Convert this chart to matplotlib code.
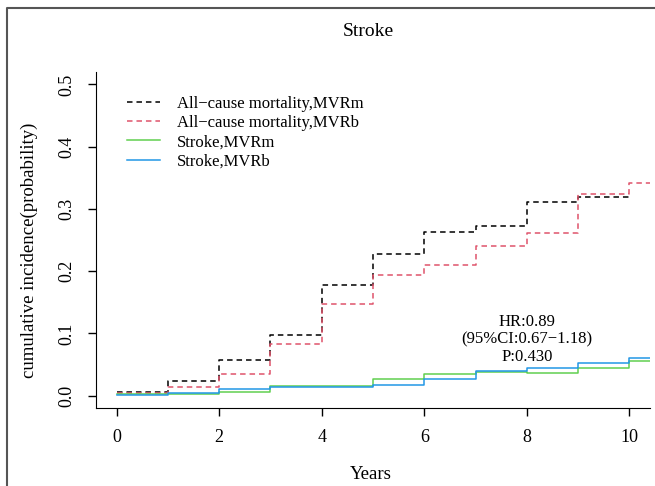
import matplotlib
matplotlib.use("Agg")
import matplotlib.pyplot as plt
from matplotlib.lines import Line2D

plt.rcParams['font.family'] = ['Liberation Serif', 'DejaVu Serif']

# dados (degraus anuais)
years = [0, 1, 2, 3, 4, 5, 6, 7, 8, 9, 10]
years_ext = [0, 1, 2, 3, 4, 5, 6, 7, 8, 9, 10, 10.6]
mort_mvrm = [0.006, 0.024, 0.057, 0.097, 0.177, 0.227, 0.263, 0.273, 0.311, 0.319, 0.319]
mort_mvrb = [0.004, 0.013, 0.034, 0.083, 0.147, 0.194, 0.210, 0.240, 0.262, 0.324, 0.341, 0.341]
stroke_mvrm = [0.003, 0.003, 0.006, 0.016, 0.016, 0.027, 0.034, 0.038, 0.037, 0.045, 0.056, 0.056]
stroke_mvrb = [0.001, 0.004, 0.010, 0.014, 0.014, 0.017, 0.027, 0.040, 0.045, 0.053, 0.061, 0.061]

labels = ["All\u2212cause mortality,MVRm", "All\u2212cause mortality,MVRb",
          "Stroke,MVRm", "Stroke,MVRb"]
colors = ["black", "#DF536B", "#61D04F", "#2297E6"]
hr_text = "HR:0.89\n(95%CI:0.67\u22121.18)\nP:0.430"

fig = plt.figure(figsize=(6.55, 4.86), dpi=100)
ax = fig.add_axes([96/655, 1-408/486, 554/655, 336/486])

dash = (0, (3.6, 2.6))
ax.step(years, mort_mvrm, where='post', color=colors[0], lw=1.1, linestyle=dash, label=labels[0])
ax.step(years_ext, mort_mvrb, where='post', color=colors[1], lw=1.1, linestyle=dash, label=labels[1])
ax.step(years_ext, stroke_mvrm, where='post', color=colors[2], lw=1.1, label=labels[2])
ax.step(years_ext, stroke_mvrb, where='post', color=colors[3], lw=1.1, label=labels[3])

ax.set_xlim(-0.4, 10.4)
ax.set_ylim(-0.02, 0.52)
ax.set_xticks([0, 2, 4, 6, 8, 10])
ax.set_yticks([0.0, 0.1, 0.2, 0.3, 0.4, 0.5])
ax.set_yticklabels(["0.0", "0.1", "0.2", "0.3", "0.4", "0.5"], rotation=90, va='center')
ax.tick_params(labelsize=13, length=6, width=1, direction='out')
ax.tick_params(axis='x', pad=9)
ax.tick_params(axis='y', pad=9)

ax.spines['top'].set_visible(False)
ax.spines['right'].set_visible(False)
ax.spines['left'].set_bounds(-0.02, 0.52)

ax.set_xlabel("Years", fontsize=13.5, va='baseline')
ax.xaxis.set_label_coords(0.496, -0.212)
ax.set_ylabel("cumulative incidence(probability)", fontsize=13.5)
ax.yaxis.set_label_coords(-0.105, 0.47)

fig.text(368/655, 1-31/486, "Stroke", ha='center', va='center', fontsize=14)

ax.text(8, 0.09, hr_text, ha='center', va='center', fontsize=12, linespacing=1.15)

ax.legend(loc='upper left', bbox_to_anchor=(0.056, 0.93), frameon=False, fontsize=12,
          handlelength=2.0, handletextpad=1.0, labelspacing=0.2, borderpad=0, borderaxespad=0)

# moldura da figura
fig.add_artist(Line2D([7/655, 7/655, 1], [0, 1-8/486, 1-8/486], transform=fig.transFigure,
                      color='#555555', lw=1.5))

fig.savefig("out.png", dpi=100)
